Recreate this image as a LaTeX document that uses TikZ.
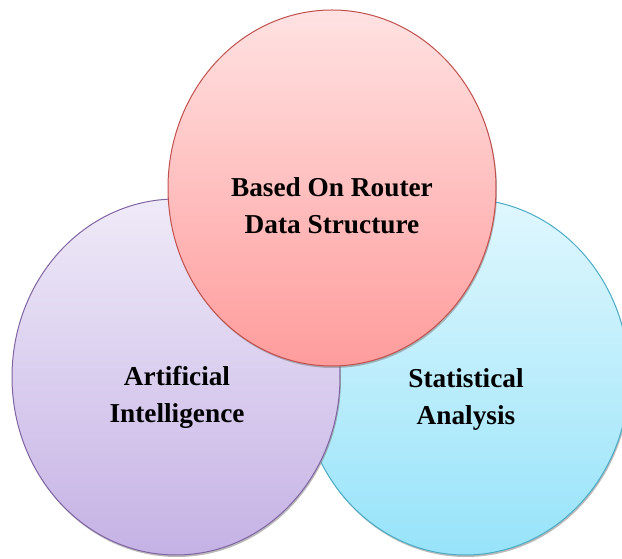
\documentclass[tikz,border=0pt]{standalone}
\usepackage{fontspec}
\setmainfont{Liberation Serif}
\usetikzlibrary{shapes.geometric,shadows}
\definecolor{redtop}{HTML}{FFE2E2}
\definecolor{redbot}{HTML}{FF9C9C}
\definecolor{redline}{HTML}{C0504D}
\definecolor{purtop}{HTML}{EFEAF8}
\definecolor{purbot}{HTML}{C5B2E5}
\definecolor{purline}{HTML}{8064A2}
\definecolor{cyatop}{HTML}{E0F7FD}
\definecolor{cyabot}{HTML}{97E3FA}
\definecolor{cyaline}{HTML}{4BACC6}
\tikzset{
  blob/.style={ellipse, minimum width=328pt, minimum height=356pt, inner sep=0pt, line width=1pt,
    drop shadow={shadow xshift=1pt, shadow yshift=-2pt, opacity=0.55, fill=gray}},
  lbl/.style={font=\bfseries\fontsize{27.3}{37}\selectfont, align=center, text=black}
}
\begin{document}
\begin{tikzpicture}[x=1pt,y=1pt]
\useasboundingbox (0,0) rectangle (622,559);
\node[blob, draw=cyaline, top color=cyatop, bottom color=cyabot] (cya) at (465,182) {};
\node[blob, draw=purline, top color=purtop, bottom color=purbot] (pur) at (176,182) {};
\node[blob, draw=redline, top color=redtop, bottom color=redbot] (red) at (332,371) {};
\node[lbl] (tred) at (332,353) {Based On Router\\Data Structure};
\node[lbl] (tpur) at (177,162) {Artificial\\Intelligence};
\node[lbl] (tcya) at (466,160) {Statistical\\Analysis};
\end{tikzpicture}
\end{document}
